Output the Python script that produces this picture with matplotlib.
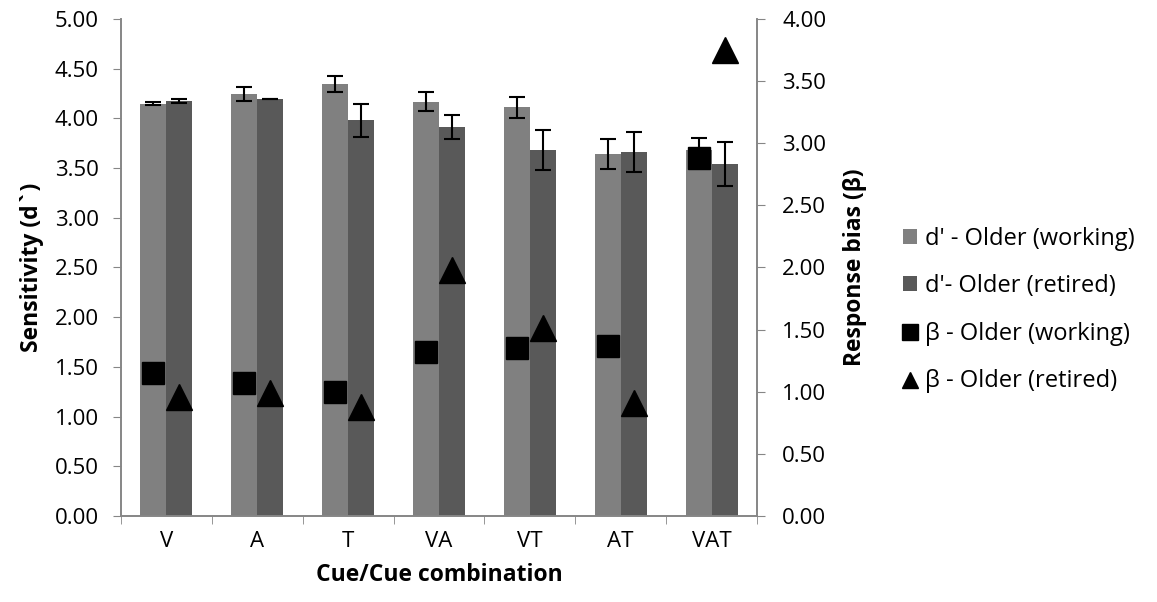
import numpy as np
import matplotlib.pyplot as plt
from matplotlib.patches import Patch
from matplotlib.lines import Line2D

plt.rcParams['font.family'] = ['Open Sans', 'DejaVu Sans']

# Data
cues = ['V', 'A', 'T', 'VA', 'VT', 'AT', 'VAT']
d_working = [4.15, 4.25, 4.35, 4.17, 4.11, 3.64, 3.68]
d_working_err = [0.02, 0.07, 0.08, 0.10, 0.105, 0.15, 0.12]
d_retired = [4.18, 4.20, 3.98, 3.91, 3.68, 3.66, 3.54]
d_retired_err = [0.02, 0.0, 0.17, 0.12, 0.20, 0.20, 0.22]
beta_working = [1.15, 1.07, 1.00, 1.32, 1.35, 1.37, 2.88]
beta_retired = [0.96, 0.99, 0.88, 1.98, 1.51, 0.91, 3.75]

x = np.arange(len(cues))
w = 0.286
col_work = '#808080'
col_ret = '#595959'
spine_col = '#868686'

fig = plt.figure(figsize=(11.57, 6.02), dpi=100)
ax = fig.add_axes([0.1046, 0.1429, 0.5497, 0.8255])
ax2 = ax.twinx()

ax.bar(x - w / 2, d_working, w, color=col_work, zorder=2)
ax.bar(x + w / 2, d_retired, w, color=col_ret, zorder=2)
ax.errorbar(x - w / 2, d_working, yerr=d_working_err, fmt='none', ecolor='black',
            elinewidth=1.5, capsize=6, capthick=1.5, zorder=3)
ax.errorbar(x + w / 2, d_retired, yerr=d_retired_err, fmt='none', ecolor='black',
            elinewidth=1.5, capsize=6, capthick=1.5, zorder=3)

ax2.plot(x - w / 2, beta_working, 's', color='black', markersize=16, linestyle='none', zorder=4)
ax2.plot(x + w / 2, beta_retired, '^', color='black', markersize=19, linestyle='none', zorder=4)

ax.set_xlim(-0.5, len(cues) - 0.5)
ax.set_ylim(0, 5)
ax2.set_ylim(0, 4)
ax.set_yticks(np.arange(0, 5.01, 0.5))
ax.set_yticklabels([f'{v:.2f}' for v in np.arange(0, 5.01, 0.5)])
ax2.set_yticks(np.arange(0, 4.01, 0.5))
ax2.set_yticklabels([f'{v:.2f}' for v in np.arange(0, 4.01, 0.5)])

ax.set_xticks(x)
ax.set_xticklabels(cues)
ax.set_xticks(np.arange(-0.5, len(cues), 1), minor=True)
ax.tick_params(axis='x', which='major', length=0, pad=11, labelsize=16)
ax.tick_params(axis='x', which='minor', length=6, color=spine_col, direction='out')
ax.tick_params(axis='y', length=6, color=spine_col, labelsize=16, pad=10)
ax2.tick_params(axis='y', length=6, color=spine_col, labelsize=16, pad=12)

for a in (ax, ax2):
    a.spines['top'].set_visible(False)
    for s in ('left', 'right', 'bottom'):
        a.spines[s].set_color(spine_col)
        a.spines[s].set_linewidth(1.2)

ax.set_xlabel('Cue/Cue combination', fontsize=16.5, fontweight='bold', labelpad=8)
ax.set_ylabel('Sensitivity (d`)', fontsize=16.5, fontweight='bold', labelpad=8)
ax2.set_ylabel('Response bias (β)', fontsize=16.5, fontweight='bold', labelpad=12)

handles = [
    Patch(facecolor=col_work, label="d' - Older (working)"),
    Patch(facecolor=col_ret, label="d'- Older (retired)"),
    Line2D([], [], marker='s', color='black', linestyle='none', markersize=12, label='β - Older (working)'),
    Line2D([], [], marker='^', color='black', linestyle='none', markersize=12, label='β - Older (retired)'),
]
fig.legend(handles=handles, loc='center left', bbox_to_anchor=(0.762, 0.485), frameon=False,
           fontsize=17, handlelength=0.6, handleheight=0.6, handletextpad=0.35, labelspacing=1.0)

plt.savefig('out.png', dpi=100)
